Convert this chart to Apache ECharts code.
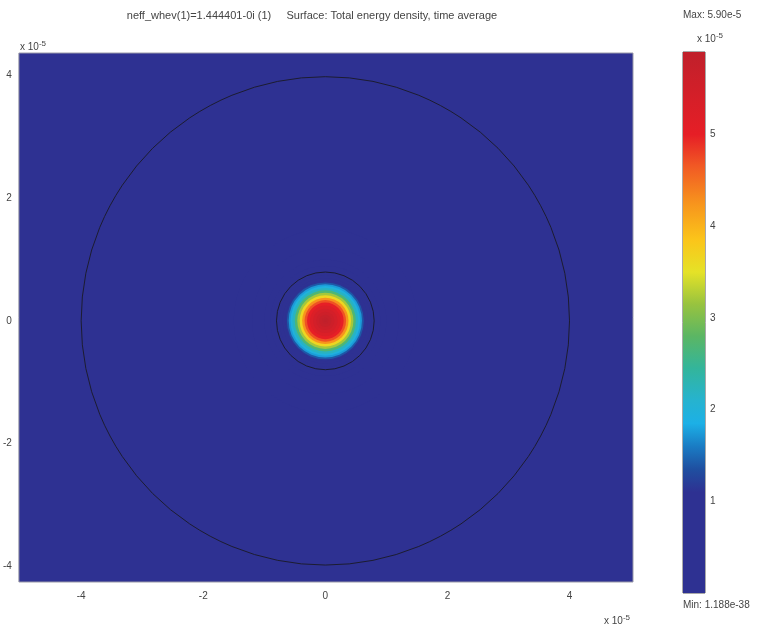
<!DOCTYPE html>
<html><head><meta charset="utf-8">
<script src="https://cdn.jsdelivr.net/npm/echarts@6/dist/echarts.min.js"></script>
<style>html,body{margin:0;padding:0;background:#fff}#c{width:760px;height:634px}</style>
</head><body><div id="c"></div>
<script>
// ---- data (units of 1e-5) ----
const xTicks = [-4, -2, 0, 2, 4];
const yTicks = [-4, -2, 0, 2, 4];
const cbTicks = [1, 2, 3, 4, 5];
// radial profile of the mode (radius, energy density x1e-5)
const radii  = [1.5, 1.2, 1.0, 0.9, 0.8, 0.75, 0.7, 0.66, 0.63, 0.6, 0.57, 0.54, 0.5, 0.46, 0.42, 0.38, 0.34, 0.3, 0.25, 0.2, 0.15, 0.1, 0.05, 0.02];
const energy = [0.01, 0.05, 0.14, 0.25, 0.45, 0.62, 0.85, 1.1, 1.4, 1.75, 1.95, 2.2, 2.7, 3.2, 3.65, 4.25, 4.7, 5.0, 5.25, 5.45, 5.6, 5.75, 5.85, 5.9];
// geometry boundaries (cladding, core)
const boundaryRadii = [4.0, 0.8];
const vMin = 0, vMax = 5.9;
// colormap stops
const cmapValues = [0, 1.1, 1.35, 1.6, 1.85, 2.1, 2.45, 2.8, 3.15, 3.5, 3.85, 4.25, 4.65, 5.0, 5.9];
const cmapColors = ['#2e3192', '#2e3192', '#1f4fa0', '#1a7cc4', '#1cb0e6', '#26b3cf', '#33b59b', '#5bb664', '#98c33f', '#e5e227', '#fbc51a', '#f7941d', '#f15a24', '#e61e26', '#c0202b'];

function hex2rgb(h){return [parseInt(h.substr(1,2),16),parseInt(h.substr(3,2),16),parseInt(h.substr(5,2),16)];}
function sampleColors(n){
  const out=[];
  for(let i=0;i<n;i++){
    const v=vMin+(vMax-vMin)*i/(n-1);
    let k=0; while(k<cmapValues.length-2 && v>cmapValues[k+1]) k++;
    const t=Math.min(1,Math.max(0,(v-cmapValues[k])/(cmapValues[k+1]-cmapValues[k])));
    const a=hex2rgb(cmapColors[k]), b=hex2rgb(cmapColors[k+1]);
    out.push('rgb('+a.map((c,j)=>Math.round(c+(b[j]-c)*t)).join(',')+')');
  }
  return out;
}
const gradStops = cmapValues.map((v,i)=>({offset:1-v/vMax,color:cmapColors[i]})).reverse();

const chart = echarts.init(document.getElementById('c'), null, {renderer:'canvas'});
const FONT = 'Liberation Sans, Arial, sans-serif';
const TXT = '#444';
const sup = {s:{fontSize:8, verticalAlign:'top', padding:[0,0,6,0]}};
chart.setOption({
  animation:false,
  backgroundColor:'#fff',
  textStyle:{fontFamily:FONT},
  grid:[
    {left:18, top:53, width:615, height:529, show:true, backgroundColor:'#2e3192', borderColor:'#9a9aa8', borderWidth:1},
    {left:683, top:52, width:22, height:541, show:true, backgroundColor:'transparent', borderColor:'#555', borderWidth:1}
  ],
  xAxis:[
    {type:'value', gridIndex:0, min:-5.02, max:5.04,
     axisLine:{show:false}, splitLine:{show:false}, axisTick:{show:false},
     axisLabel:{customValues:xTicks, color:TXT, fontSize:10, margin:9, fontFamily:FONT}},
    {type:'category', gridIndex:1, data:['c'], show:false}
  ],
  yAxis:[
    {type:'value', gridIndex:0, min:-4.26, max:4.37,
     axisLine:{show:false}, splitLine:{show:false}, axisTick:{show:false},
     axisLabel:{customValues:yTicks, color:TXT, fontSize:10, margin:7, fontFamily:FONT}},
    {type:'value', gridIndex:1, min:vMin, max:vMax, position:'right',
     axisLine:{show:false}, splitLine:{show:false},
     axisTick:{show:true, inside:true, length:3, customValues:cbTicks, lineStyle:{color:'#333'}},
     axisLabel:{customValues:cbTicks, color:TXT, fontSize:10, margin:5, fontFamily:FONT}},
    {type:'value', gridIndex:1, min:vMin, max:vMax, position:'left',
     axisLine:{show:false}, splitLine:{show:false},
     axisTick:{show:true, inside:true, length:3, customValues:cbTicks, lineStyle:{color:'#333'}},
     axisLabel:{show:false}}
  ],
  visualMap:{type:'continuous', show:false, min:vMin, max:vMax, seriesIndex:0, dimension:1,
    inRange:{color:sampleColors(80)}},
  series:[
    {type:'custom', xAxisIndex:0, yAxisIndex:0, clip:true,
     data: radii.map((r,i)=>[r, energy[i]]),
     renderItem:function(params, api){
       const c = api.coord([0,0]);
       const s = api.size([api.value(0), api.value(0)]);
       return {type:'circle', shape:{cx:c[0], cy:c[1], r:s[0]}, style:{fill:api.visual('color'), stroke:null}};
     }},
    {type:'custom', xAxisIndex:0, yAxisIndex:0, clip:true,
     data: boundaryRadii.map(r=>[r]),
     renderItem:function(params, api){
       const c = api.coord([0,0]);
       const s = api.size([api.value(0), api.value(0)]);
       return {type:'circle', shape:{cx:c[0], cy:c[1], r:s[0]}, style:{fill:null, stroke:'#1c1c30', lineWidth:1}};
     }},
    {type:'bar', xAxisIndex:1, yAxisIndex:1, data:[vMax], barWidth:'100%',
     itemStyle:{color:new echarts.graphic.LinearGradient(0,0,0,1,gradStops)}}
  ],
  graphic:[
    {type:'text', x:312, y:10, style:{text:'neff_whev(1)=1.444401-0i (1)     Surface: Total energy density, time average', font:'11px '+FONT, fill:TXT, align:'center'}},
    {type:'text', x:683, y:10, style:{text:'Max: 5.90e-5', font:'10px '+FONT, fill:TXT}},
    {type:'text', x:683, y:600, style:{text:'Min: 1.188e-38', font:'10px '+FONT, fill:TXT}},
    {type:'text', x:20, y:40, style:{text:'x 10{s|-5}', font:'10px '+FONT, fill:TXT, rich:sup}},
    {type:'text', x:604, y:614, style:{text:'x 10{s|-5}', font:'10px '+FONT, fill:TXT, rich:sup}},
    {type:'text', x:697, y:32, style:{text:'x 10{s|-5}', font:'10px '+FONT, fill:TXT, rich:sup}}
  ]
});
</script>
</body></html>
